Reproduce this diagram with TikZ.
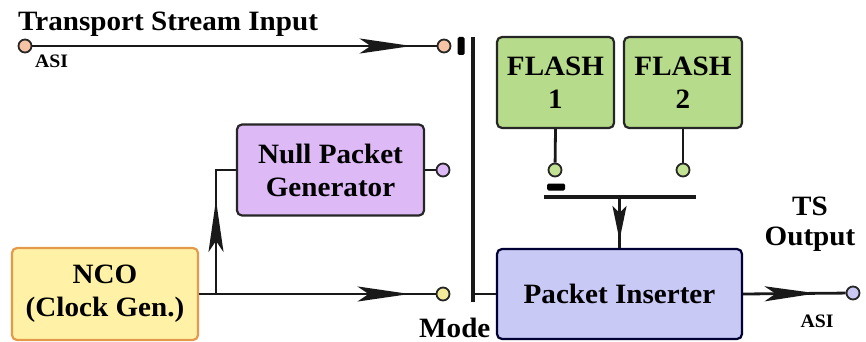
\documentclass[tikz,border=0pt]{standalone}
\usepackage{fontspec}
\setmainfont{Liberation Serif}[FakeStretch=1.04]
\usetikzlibrary{arrows.meta,decorations.markings}

\definecolor{ncofill}{HTML}{FFF2A6}
\definecolor{ncoline}{HTML}{E39A4A}
\definecolor{flashfill}{HTML}{B6DB8A}
\definecolor{nullfill}{HTML}{DDB9F6}
\definecolor{insfill}{HTML}{C9C9F6}
\definecolor{peach}{HTML}{F6C3A4}
\definecolor{pyellow}{HTML}{F2EC9A}
\definecolor{pgreen}{HTML}{C2E294}
\definecolor{plilac}{HTML}{CBC8F4}

\tikzset{
  blockbox/.style={draw=black!85, line width=2.2pt, rounded corners=5pt,
    inner sep=0pt, align=center, font=\bfseries\fontsize{28}{33}\selectfont},
  port/.style={circle, draw=black!85, line width=1.8pt, minimum size=13pt, inner sep=0pt},
  wire/.style={line width=2.8pt, black!90},
  contact/.style={fill=black, rounded corners=1.5pt, inner sep=0pt},
  label/.style={font=\bfseries\fontsize{28}{30}\selectfont, inner sep=0pt},
  small/.style={font=\bfseries\fontsize{19}{20}\selectfont, inner sep=0pt},
  midarrow/.style={postaction={decorate, decoration={markings,
    mark=at position #1 with {\arrow{Stealth[length=52pt,width=15pt,inset=11pt]}}}}},
  shortarrow/.style={postaction={decorate, decoration={markings,
    mark=at position #1 with {\arrow{Stealth[length=34pt,width=14pt,inset=7pt]}}}}},
}

\begin{document}
\begin{tikzpicture}[x=1pt, y=-1pt]
\useasboundingbox (0,0) rectangle (866,342);

% blocks
\node[blockbox, draw=ncoline, fill=ncofill, minimum width=186pt, minimum height=92pt]
  (nco) at (105,294) {NCO\\(Clock Gen.)};
\node[blockbox, fill=nullfill, minimum width=187pt, minimum height=91pt]
  (npg) at (330.5,170) {Null Packet\\Generator};
\node[blockbox, fill=flashfill, minimum width=117pt, minimum height=91pt]
  (f1) at (555.5,82.5) {FLASH\\1};
\node[blockbox, fill=flashfill, minimum width=118pt, minimum height=91pt]
  (f2) at (683,82.5) {FLASH\\2};
\node[blockbox, draw=black!80!blue, fill=insfill, minimum width=245pt, minimum height=90pt]
  (pi) at (619.5,294) {Packet Inserter};

% ports
\node[port, fill=peach] (inA) at (25,46) {};
\node[port, fill=peach] (inB) at (444,46) {};
\node[port, fill=nullfill] (npgC) at (443,170) {};
\node[port, fill=pyellow] (ncoC) at (443,294) {};
\node[port, fill=pgreen] (f1C) at (555,170) {};
\node[port, fill=pgreen] (f2C) at (683,170) {};
\node[port, fill=plilac] (outC) at (853,293) {};

% switch contacts
\node[contact, minimum width=7pt, minimum height=18pt] (swA) at (461,46) {};
\node[contact, minimum width=18pt, minimum height=7pt] (swB) at (556,187) {};

% mode selector bar and flash bus
\coordinate (modeTop) at (473,37);
\coordinate (modeBot) at (473,302);
\coordinate (busL) at (544,197);
\coordinate (busR) at (696,197);
\coordinate (br) at (216,294);

\draw[wire, line width=3.2pt] (modeTop) -- (modeBot);
\draw[wire] (modeBot |- pi.west) -- (pi.west);
\draw[wire, line width=3.2pt] (busL) -- (busR);

% connections
\draw[wire, midarrow=-25pt] (inA) -- (inB);
\draw[wire, midarrow=-26pt] (nco.east) -- (ncoC);
\draw[wire, midarrow=94pt] (br) |- (npg.west);
\draw[wire] (npg.east) -- (npgC);
\draw[wire] (f1.south) -- (f1C);
\draw[wire] (f2.south) -- (f2C);
\draw[wire, shortarrow=43pt] (pi.north |- busL) -- (pi.north);
\draw[wire, midarrow=-29pt] (pi.east) -- (outC);

% labels
\node[label, anchor=base west] (title) at (18,31) {Transport Stream Input};
\node[small, anchor=base west] (asiIn) at (35,68) {ASI};
\node[label, anchor=base west] (mode) at (419,337) {Mode};
\node[label, align=center, anchor=base] (tsout) at (810,245) {TS\\Output};
\node[small, anchor=base] (asiOut) at (817,327) {ASI};
\end{tikzpicture}
\end{document}
